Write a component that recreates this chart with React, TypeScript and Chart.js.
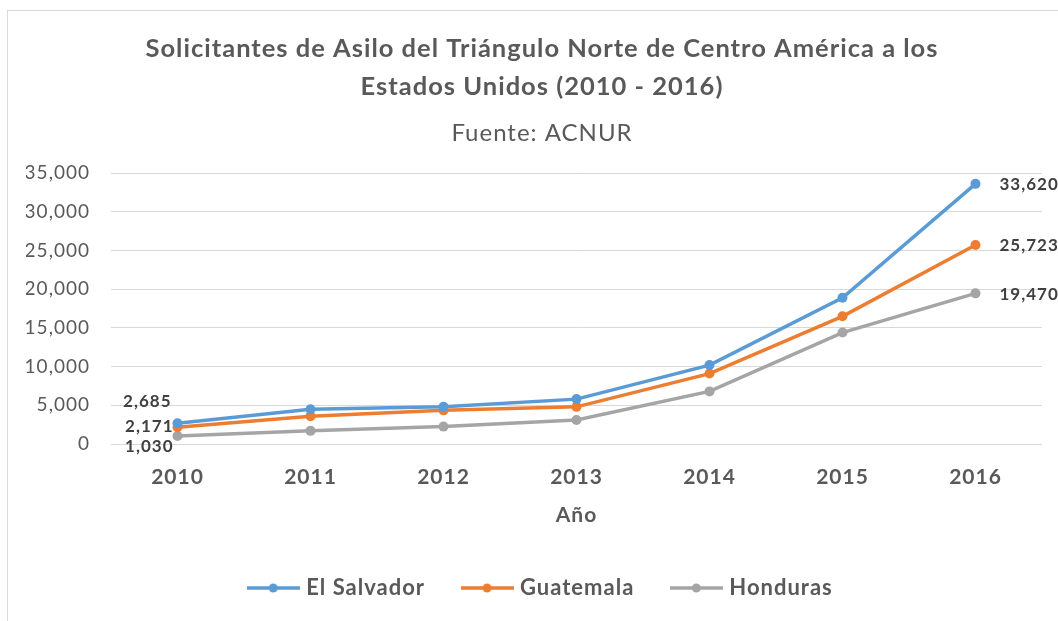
import React, { useEffect, useRef } from "react";
import { Chart, registerables } from "chart.js";

Chart.register(...registerables);

const years = ["2010", "2011", "2012", "2013", "2014", "2015", "2016"];
const elSalvador = [2685, 4500, 4800, 5800, 10200, 18900, 33620];
const guatemala = [2171, 3600, 4350, 4800, 9100, 16500, 25723];
const honduras = [1030, 1700, 2250, 3100, 6800, 14400, 19470];
const seriesNames = ["El Salvador", "Guatemala", "Honduras"];
const seriesColors = ["#5B9BD5", "#ED7D31", "#A5A5A5"];
const yMin = 0;
const yMax = 35000;
const yStep = 5000;

const titleLines = [
  "Solicitantes de Asilo del Triángulo Norte de Centro América a los",
  "Estados Unidos (2010 - 2016)",
];
const subtitleText = "Fuente: ACNUR";
const xTitle = "Año";

const FONT = "Lato, 'Open Sans', sans-serif";

const fmt = (v: number) => v.toLocaleString("en-US");

function makeLegendMarker(color: string) {
  const c = document.createElement("canvas");
  c.width = 53;
  c.height = 12;
  const ctx = c.getContext("2d")!;
  ctx.strokeStyle = color;
  ctx.lineWidth = 3.5;
  ctx.beginPath();
  ctx.moveTo(0, 6);
  ctx.lineTo(53, 6);
  ctx.stroke();
  ctx.fillStyle = color;
  ctx.beginPath();
  ctx.arc(26.5, 6, 4.5, 0, Math.PI * 2);
  ctx.fill();
  return c;
}

// end-point label placement (style only)
const firstLabelOffsets = [
  { dx: -6, dy: -22 },
  { dx: -4, dy: -1 },
  { dx: -4, dy: 10 },
];
const lastLabelOffsets = [
  { dx: 24, dy: 1 },
  { dx: 24, dy: 1 },
  { dx: 24, dy: 1 },
];

const spacingPlugin = {
  id: "spacing",
  beforeUpdate(chart: any) {
    chart.ctx.letterSpacing = "1px";
  },
  beforeDraw(chart: any) {
    chart.ctx.letterSpacing = "1px";
  },
};

const endLabelsPlugin = {
  id: "endLabels",
  afterDatasetsDraw(chart: any) {
    const ctx = chart.ctx;
    ctx.save();
    ctx.font = `bold 17px ${FONT}`;
    ctx.fillStyle = "#404040";
    ctx.textBaseline = "middle";
    chart.data.datasets.forEach((ds: any, i: number) => {
      const meta = chart.getDatasetMeta(i);
      const n = ds.data.length;
      const first = meta.data[0];
      const last = meta.data[n - 1];
      ctx.textAlign = "right";
      ctx.fillText(fmt(ds.data[0]), first.x + firstLabelOffsets[i].dx, first.y + firstLabelOffsets[i].dy);
      ctx.textAlign = "left";
      ctx.fillText(fmt(ds.data[n - 1]), last.x + lastLabelOffsets[i].dx, last.y + lastLabelOffsets[i].dy);
    });
    ctx.restore();
  },
};

export default function App() {
  const ref = useRef<HTMLCanvasElement | null>(null);

  useEffect(() => {
    if (!ref.current) return;
    const seriesData = [elSalvador, guatemala, honduras];
    const markers = seriesColors.map(makeLegendMarker);
    const chart = new Chart(ref.current, {
      type: "line",
      data: {
        labels: years,
        datasets: seriesNames.map((name, i) => ({
          label: name,
          data: seriesData[i],
          borderColor: seriesColors[i],
          backgroundColor: seriesColors[i],
          borderWidth: 3.5,
          pointRadius: 5,
          pointBorderWidth: 0,
          pointBackgroundColor: seriesColors[i],
          tension: 0,
          fill: false,
        })),
      },
      options: {
        animation: false,
        responsive: false,
        maintainAspectRatio: false,
        layout: { padding: { left: 26, right: 0, top: 0, bottom: 12 } },
        plugins: {
          tooltip: { enabled: false },
          title: {
            display: true,
            text: titleLines,
            color: "#595959",
            font: { family: FONT, size: 25.5, weight: "bold", lineHeight: 1.49 },
            padding: { top: 30, bottom: 0 },
          },
          subtitle: {
            display: true,
            text: subtitleText,
            color: "#595959",
            font: { family: FONT, size: 24, weight: "normal", lineHeight: 1.3 },
            padding: { top: 12, bottom: 24 },
          },
          legend: {
            position: "bottom",
            labels: {
              usePointStyle: true,
              pointStyleWidth: 44,
              padding: 40,
              color: "#595959",
              font: { family: FONT, size: 22, weight: "bold" },
              generateLabels: (chart: any) => {
                const items = Chart.defaults.plugins.legend.labels.generateLabels(chart);
                return items.map((it: any, i: number) => ({ ...it, pointStyle: markers[i] }));
              },
            },
          },
        },
        scales: {
          x: {
            type: "category",
            offset: true,
            grid: { display: false, drawTicks: false },
            border: { display: false },
            ticks: {
              color: "#595959",
              padding: 21,
              font: { family: FONT, size: 21, weight: "bold" },
            },
            title: {
              display: true,
              text: xTitle,
              color: "#595959",
              font: { family: FONT, size: 21, weight: "bold" },
              padding: { top: 4, bottom: 9 },
            },
            afterFit: (s: any) => {
              s.height = 93;
            },
          },
          y: {
            min: yMin,
            max: yMax,
            grid: { color: "#d9d9d9", lineWidth: 1, drawTicks: false },
            border: { display: false },
            ticks: {
              stepSize: yStep,
              color: "#595959",
              padding: 21,
              font: { family: FONT, size: 19 },
              callback: (v: any) => fmt(Number(v)),
            },
            afterFit: (s: any) => {
              s.width = 85;
            },
          },
          yRight: {
            position: "right",
            display: true,
            min: yMin,
            max: yMax,
            grid: { display: false, drawTicks: false },
            border: { display: false },
            ticks: { display: false },
            afterFit: (s: any) => {
              s.width = 16;
            },
          },
        },
      },
      plugins: [spacingPlugin, endLabelsPlugin],
    } as any);
    return () => chart.destroy();
  }, []);

  return (
    <div style={{ position: "fixed", left: 0, top: 0, width: 1058, height: 621, overflow: "hidden", background: "#fff" }}>
      <div
        style={{
          position: "absolute",
          left: 7,
          top: 10,
          width: 1070,
          height: 640,
          border: "1px solid #d9d9d9",
          boxSizing: "border-box",
        }}
      />
      <canvas ref={ref} width={1058} height={621} style={{ position: "absolute", left: 0, top: 0 }} />
    </div>
  );
}
